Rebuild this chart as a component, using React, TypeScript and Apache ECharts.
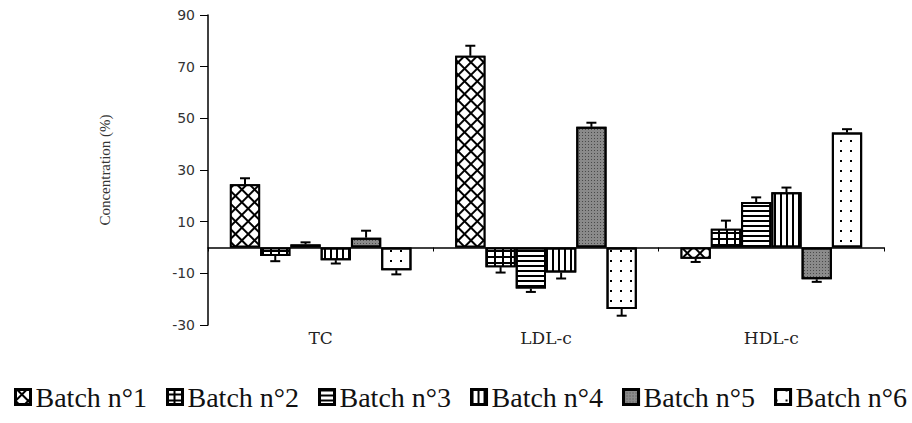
import React, { useEffect, useRef } from "react";
import * as echarts from "echarts";

const categories = ["TC", "LDL-c", "HDL-c"];
const batchNames = ["Batch n°1", "Batch n°2", "Batch n°3", "Batch n°4", "Batch n°5", "Batch n°6"];

const batch1 = [24.5, 74.2, -4.4];
const batch2 = [-3.3, -7.6, 7.3];
const batch3 = [1.2, -15.9, 17.6];
const batch4 = [-4.9, -9.7, 21.4];
const batch5 = [3.8, 46.7, -12.3];
const batch6 = [-8.8, -23.8, 44.5];

const err1 = [2.3, 3.9, 1.2];
const err2 = [2.0, 2.1, 3.1];
const err3 = [0.8, 1.3, 1.8];
const err4 = [1.3, 2.3, 1.8];
const err5 = [2.7, 1.6, 1.0];
const err6 = [1.6, 2.6, 1.3];

const yMin = -30;
const yMax = 90;
const yInterval = 20;

const values = [batch1, batch2, batch3, batch4, batch5, batch6];
const errors = [err1, err2, err3, err4, err5, err6];

const GAP = 0.194;

const fills = ["#000", "#000", "#fff", "#fff", "#8a8a8a", "#fff"];
const decals: any[] = [
  { symbol: "rect", symbolSize: 1, color: "#fff", dashArrayX: [6.5, 1.2], dashArrayY: [6.5, 1.2], rotation: Math.PI / 4 },
  { symbol: "rect", symbolSize: 1, color: "#fff", dashArrayX: [5.5, 1.3], dashArrayY: [3.4, 1.3] },
  { symbol: "rect", symbolSize: 1, color: "#000", dashArrayX: [1, 0], dashArrayY: [1.2, 2.3] },
  { symbol: "rect", symbolSize: 1, color: "#000", dashArrayX: [1.3, 3.8], dashArrayY: [1, 0] },
  { symbol: "rect", symbolSize: 1, color: "#4a4a4a", dashArrayX: [1, 1.2], dashArrayY: [1, 1.2] },
  { symbol: "rect", symbolSize: 1, color: "#000", dashArrayX: [1.4, 7.6], dashArrayY: [1.4, 7.2] },
];

const SERIF = "'Liberation Serif', 'Times New Roman', serif";

export default function App() {
  const ref = useRef<HTMLDivElement>(null);
  useEffect(() => {
    document.body.style.margin = "0";
    if (!ref.current) return;
    const chart = echarts.init(ref.current, undefined, { renderer: "svg" });

    const barSeries = values.map((vals, i) => ({
      type: "bar",
      name: batchNames[i],
      data: vals,
      xAxisIndex: 0,
      barGap: "0%",
      barCategoryGap: GAP * 100 + "%",
      itemStyle: {
        color: fills[i],
        borderColor: "#000",
        borderWidth: 2,
        decal: decals[i],
      },
    }));

    const errData: number[][] = [];
    values.forEach((vals, b) => {
      vals.forEach((v, c) => {
        errData.push([c, v, errors[b][c], b]);
      });
    });

    const errSeries = {
      type: "custom",
      name: "err",
      xAxisIndex: 0,
      silent: true,
      z: 10,
      clip: false,
      encode: { x: 0, y: 1 },
      data: errData,
      renderItem: (params: any, api: any) => {
        const cat = api.value(0);
        const v = api.value(1);
        const e = api.value(2);
        const b = api.value(3);
        const sign = v >= 0 ? 1 : -1;
        const p0 = api.coord([cat, v]);
        const p1 = api.coord([cat, v + sign * e]);
        const bandW = api.size([1, 0])[0];
        const groupW = bandW * (1 - GAP);
        const bw = groupW / 6;
        const x = p0[0] - groupW / 2 + (b + 0.5) * bw;
        const st = { stroke: "#000", lineWidth: 2 };
        return {
          type: "group",
          children: [
            { type: "line", shape: { x1: x, y1: p0[1], x2: x, y2: p1[1] }, style: st },
            { type: "line", shape: { x1: x - 5, y1: p1[1], x2: x + 5, y2: p1[1] }, style: st },
          ],
        };
      },
    };

    chart.setOption({
      animation: false,
      backgroundColor: "#fff",
      grid: { left: 208, right: 28, top: 15, bottom: 98, containLabel: false },
      legend: {
        data: batchNames,
        left: 14,
        top: 383,
        padding: 0,
        itemWidth: 15,
        itemHeight: 15,
        itemGap: 19,
        icon: "rect",
        itemStyle: { borderColor: "#000", borderWidth: 3 },
        textStyle: { fontFamily: SERIF, fontSize: 28, color: "#111" },
      },
      xAxis: [
        {
          type: "category",
          data: categories,
          axisLine: { onZero: true, lineStyle: { color: "#000", width: 1.5 } },
          axisTick: { show: true, length: 4, lineStyle: { color: "#000" } },
          axisLabel: { show: false },
          splitLine: { show: false },
        },
        {
          type: "category",
          data: categories,
          position: "bottom",
          axisLine: { show: false, onZero: false },
          axisTick: { show: false },
          axisLabel: { fontFamily: "'DejaVu Serif', serif", fontSize: 17, color: "#222", margin: 4 },
          splitLine: { show: false },
        },
      ],
      yAxis: {
        type: "value",
        min: yMin,
        max: yMax,
        interval: yInterval,
        name: "Concentration (%)",
        nameLocation: "middle",
        nameGap: 96,
        nameTextStyle: { fontFamily: SERIF, fontSize: 15, color: "#333" },
        axisLine: { show: true, lineStyle: { color: "#000", width: 1.5 } },
        axisTick: { show: true, length: 8, lineStyle: { color: "#000" } },
        axisLabel: { fontFamily: "'DejaVu Sans', sans-serif", fontSize: 14, color: "#333", margin: 13 },
        splitLine: { show: false },
      },
      series: [...barSeries, errSeries],
    });
    return () => chart.dispose();
  }, []);
  return <div ref={ref} style={{ width: 912, height: 423 }} />;
}
